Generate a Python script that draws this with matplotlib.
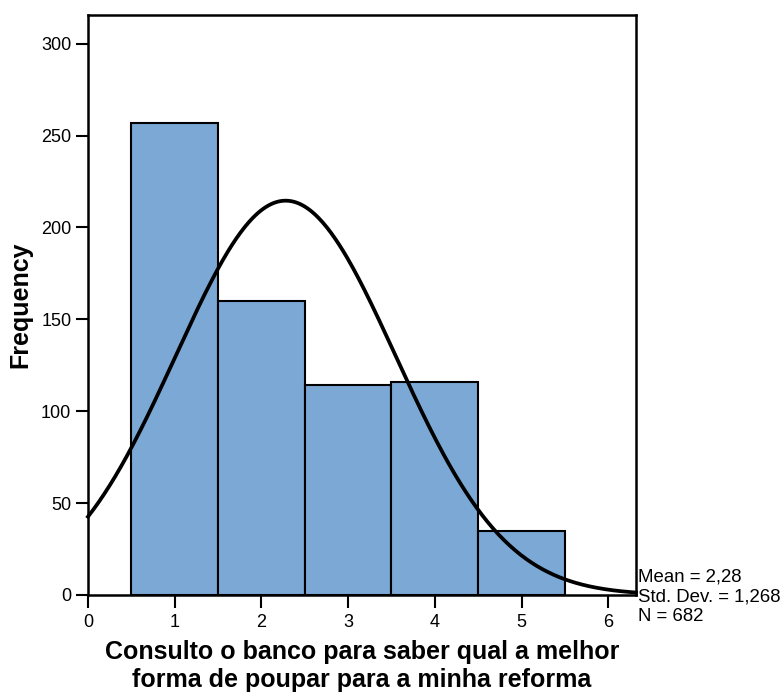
import numpy as np
import matplotlib
matplotlib.use("Agg")
import matplotlib.pyplot as plt

plt.rcParams['font.family'] = ['Liberation Sans', 'DejaVu Sans']

# histogram data
bin_centers = [1, 2, 3, 4, 5]
frequencies = [257, 160, 114, 116, 35]
mean_val = 2.28
std_val = 1.268
n_total = 682
x_ticks = [0, 1, 2, 3, 4, 5, 6]
y_ticks = [0, 50, 100, 150, 200, 250, 300]
stats_lines = ["Mean = 2,28", "Std. Dev. = 1,268", "N = 682"]

fig = plt.figure(figsize=(7.84, 6.95), dpi=100)
ax = fig.add_axes([0.1122, 0.1439, 0.6990, 0.8345])

ax.bar(bin_centers, frequencies, width=1.0, color="#7ba8d5",
       edgecolor="black", linewidth=1.5, zorder=2)

# normal curve scaled to counts (bin width 1)
xs = np.linspace(0, 6.32, 400)
pdf = n_total * np.exp(-(xs - mean_val) ** 2 / (2 * std_val ** 2)) / (std_val * np.sqrt(2 * np.pi))
ax.plot(xs, pdf, color="black", linewidth=2.7, zorder=3, clip_on=False)

ax.set_xlim(0, 6.32)
ax.set_ylim(0, 315.6)
ax.set_xticks(x_ticks)
ax.set_yticks(y_ticks)
ax.tick_params(direction="out", length=9, width=1.5, labelsize=13, pad=3)
ax.tick_params(axis="x", pad=5)
for sp in ax.spines.values():
    sp.set_linewidth(1.8)

ax.set_ylabel("Frequency", fontsize=18, fontweight="bold", labelpad=6)
ax.set_xlabel("Consulto o banco para saber qual a melhor\nforma de poupar para a minha reforma",
              fontsize=18, fontweight="bold", labelpad=6, linespacing=1.2)

fig.text(638 / 784, 1 - 597 / 695, "\n".join(stats_lines),
         fontsize=13.4, ha="left", va="center", linespacing=1.2)

plt.savefig("out.png", dpi=100)
